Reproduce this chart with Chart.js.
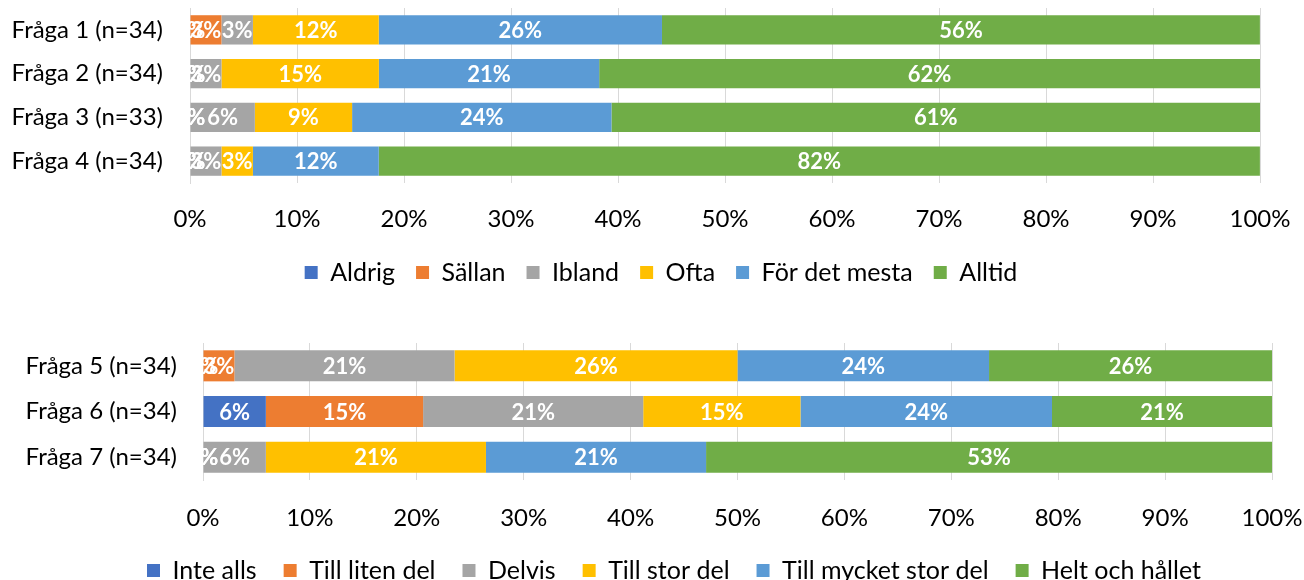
<!DOCTYPE html>
<html>
<head>
<meta charset="utf-8">
<script src="https://cdn.jsdelivr.net/npm/chart.js@4"></script>
<style>
  html, body { margin: 0; padding: 0; background: #fff; overflow: hidden; }
  .box { position: absolute; left: 0; width: 1304px; }
  #top { top: 0; height: 300px; }
  #bottom { top: 330px; height: 270px; }
</style>
</head>
<body>
<div class="box" id="top"><canvas id="topChart"></canvas></div>
<div class="box" id="bottom"><canvas id="bottomChart"></canvas></div>
<script>
const FONT = 'Lato';

const topQuestions = ['Fråga 1 (n=34)', 'Fråga 2 (n=34)', 'Fråga 3 (n=33)', 'Fråga 4 (n=34)'];
const aldrig = [0, 0, 0, 0];
const sallan = [2.94, 0, 0, 0];
const ibland = [2.94, 2.94, 6.06, 2.94];
const ofta = [11.76, 14.71, 9.09, 2.94];
const forDetMesta = [26.47, 20.59, 24.24, 11.76];
const alltid = [55.88, 61.76, 60.61, 82.35];

const bottomQuestions = ['Fråga 5 (n=34)', 'Fråga 6 (n=34)', 'Fråga 7 (n=34)'];
const inteAlls = [0, 5.88, 0];
const tillLitenDel = [2.94, 14.71, 0];
const delvis = [20.59, 20.59, 5.88];
const tillStorDel = [26.47, 14.71, 20.59];
const tillMycketStorDel = [23.53, 23.53, 20.59];
const heltOchHallet = [26.47, 20.59, 52.94];

const xTicks = [0, 10, 20, 30, 40, 50, 60, 70, 80, 90, 100];

const COLORS = ['#4472C4', '#ED7D31', '#A5A5A5', '#FFC000', '#5B9BD5', '#70AD47'];
const GRID_COLOR = '#D9D9D9';

// white percent labels in the middle of every segment, zero ones included
const barLabels = {
  id: 'barLabels',
  afterDatasetsDraw(chart) {
    const { ctx } = chart;
    ctx.save();
    ctx.font = `bold 22px ${FONT}`;
    ctx.fillStyle = '#fff';
    ctx.textAlign = 'center';
    ctx.textBaseline = 'middle';
    chart.data.datasets.forEach((ds, i) => {
      chart.getDatasetMeta(i).data.forEach((bar, j) => {
        const { x, y, base } = bar.getProps(['x', 'y', 'base'], true);
        ctx.fillText(`${Math.round(ds.data[j])}%`, (x + base) / 2, y + 1);
      });
    });
    ctx.restore();
  },
};

const buildChart = (id, labels, series, dims) => {
  const datasets = series.map(([label, data], i) => ({
    label,
    data,
    backgroundColor: COLORS[i],
    borderWidth: 0,
    categoryPercentage: 1,
    barPercentage: dims.barPct,
  }));

  // the legend sits a bit right of the canvas centre, like in Excel
  const legendShift = {
    id: 'legendShift',
    afterLayout(chart) {
      chart.legend.left += dims.legendShift;
      chart.legend.right += dims.legendShift;
    },
  };

  return new Chart(document.getElementById(id).getContext('2d'), {
    type: 'bar',
    data: { labels, datasets },
    plugins: [barLabels, legendShift],
    options: {
      indexAxis: 'y',
      responsive: true,
      maintainAspectRatio: false,
      animation: false,
      layout: { padding: { top: dims.padTop, right: dims.padRight, bottom: dims.padBottom, left: 0 } },
      scales: {
        x: {
          stacked: true,
          min: 0,
          max: 100,
          afterBuildTicks: scale => {
            scale.ticks = xTicks.map(value => ({ value }));
          },
          afterFit: scale => {
            scale.height = dims.xHeight;
            scale.paddingLeft = 0;
            scale.paddingRight = 0;
          },
          grid: { color: GRID_COLOR, drawTicks: true, tickLength: dims.xGap, tickColor: 'rgba(0,0,0,0)' },
          border: { display: false },
          ticks: {
            color: '#000',
            padding: 0,
            font: { family: FONT, size: 24 },
            callback: v => `${v}%`,
          },
        },
        y: {
          stacked: true,
          afterFit: scale => {
            scale.width = dims.yWidth;
            scale.paddingTop = 0;
            scale.paddingBottom = 0;
          },
          grid: { display: false, drawTicks: true, tickLength: dims.yGap },
          border: { display: true, color: GRID_COLOR, width: 1 },
          ticks: {
            color: '#000',
            padding: 0,
            font: { family: FONT, size: 24 },
          },
        },
      },
      plugins: {
        tooltip: { enabled: false },
        legend: {
          position: 'bottom',
          labels: {
            color: '#000',
            boxWidth: 13,
            boxHeight: 13,
            padding: dims.legendPad,
            font: { family: FONT, size: 25 },
          },
        },
      },
    },
  });
};

document.addEventListener('DOMContentLoaded', () => {
  buildChart('topChart', topQuestions, [
    ['Aldrig', aldrig],
    ['Sällan', sallan],
    ['Ibland', ibland],
    ['Ofta', ofta],
    ['För det mesta', forDetMesta],
    ['Alltid', alltid],
  ], {
    padTop: 8, padRight: 44, padBottom: 5, xHeight: 56, xGap: 22, yWidth: 190, yGap: 27,
    barPct: 0.67, legendPad: 21, legendShift: 31,
  });

  buildChart('bottomChart', bottomQuestions, [
    ['Inte alls', inteAlls],
    ['Till liten del', tillLitenDel],
    ['Delvis', delvis],
    ['Till stor del', tillStorDel],
    ['Till mycket stor del', tillMycketStorDel],
    ['Helt och hållet', heltOchHallet],
  ], {
    padTop: 13, padRight: 32, padBottom: 7, xHeight: 51, xGap: 24, yWidth: 203, yGap: 26,
    barPct: 0.68, legendPad: 27, legendShift: 38,
  });
});
</script>
</body>
</html>
